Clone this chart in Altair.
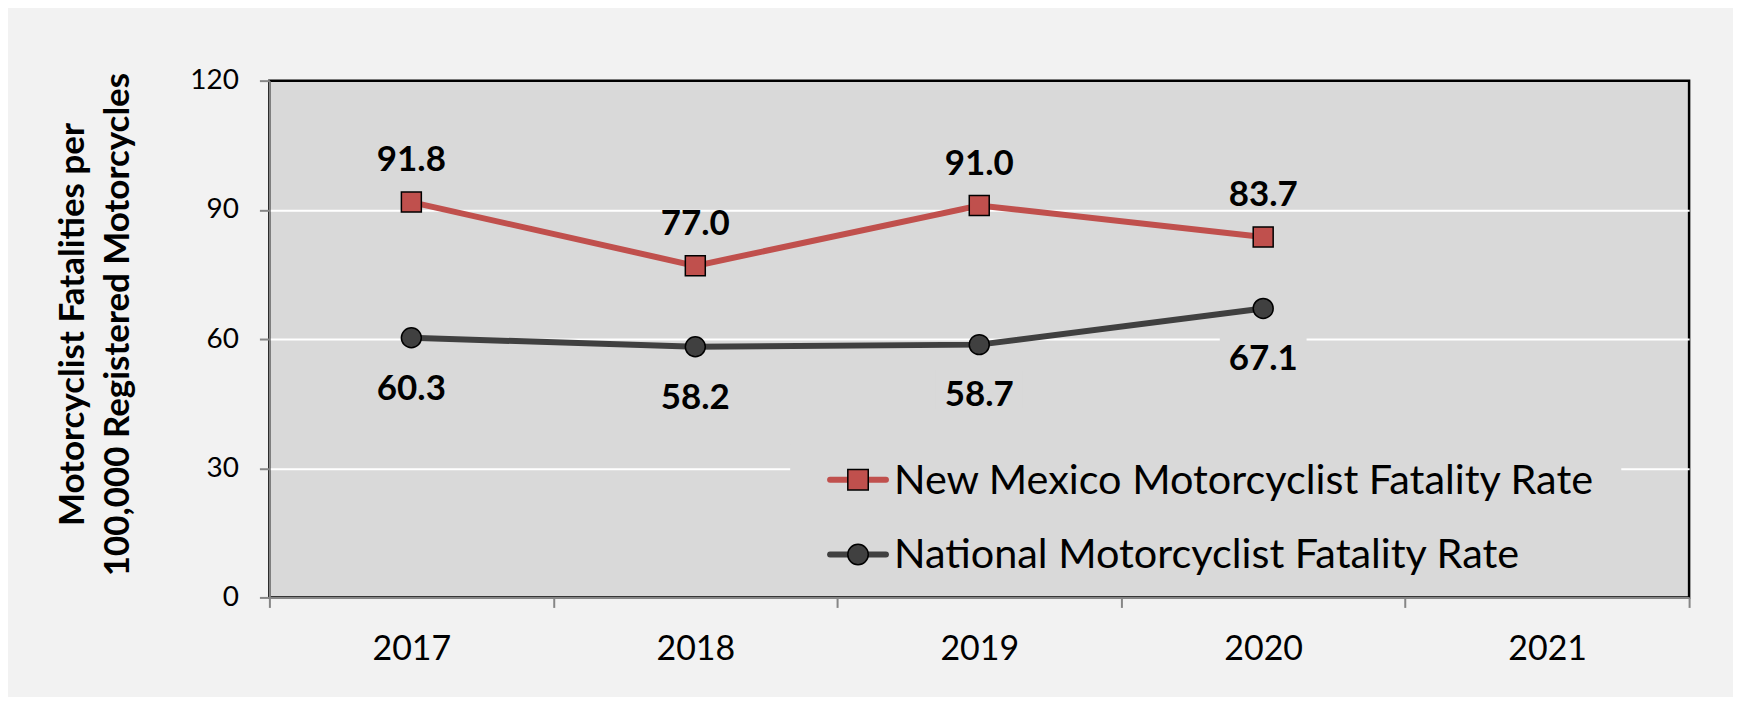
import altair as alt
import pandas as pd

# ---- data ----
years = ["2017", "2018", "2019", "2020", "2021"]
series = ["New Mexico Motorcyclist Fatality Rate", "National Motorcyclist Fatality Rate"]
nm_rate = [91.8, 77.0, 91.0, 83.7, None]
national_rate = [60.3, 58.2, 58.7, 67.1, None]
y_ticks = [0, 30, 60, 90, 120]
y_title = ["Motorcyclist Fatalities per", "100,000 Registered Motorcycles"]

rows = []
for s, vals in zip(series, [nm_rate, national_rate]):
    for yr, v in zip(years, vals):
        if v is not None:
            rows.append({"year": yr, "series": s, "rate": v})
df = pd.DataFrame(rows)
legend_df = pd.DataFrame({"series": series})

# ---- styles ----
RED = "#c0504d"
DARK = "#404040"
PLOT_BG = "#d9d9d9"
PAGE_BG = "#f2f2f2"
AXIS_GRAY = "#868686"
FONT = "Lato"
W, H = 1423, 518
colors = [RED, DARK]
shapes = ["square", "circle"]
RECT_PATH = "M-1,-0.437L1,-0.437L1,0.437L-1,0.437Z"

x_scale = alt.Scale(type="band", domain=years, paddingInner=0, paddingOuter=0)
y_scale = alt.Scale(domain=[0, 120], nice=False, zero=True)

x_axis = alt.Axis(
    title=None, labelAngle=0, labelFont=FONT, labelFontSize=34, labelColor="black",
    labelPadding=25, tickBand="extent", tickSize=10, tickColor=AXIS_GRAY, tickWidth=2,
    domainColor=AXIS_GRAY, domainWidth=2, grid=False,
)
y_axis = alt.Axis(
    values=y_ticks, title=y_title, titleFont=FONT, titleFontSize=35, titleFontWeight="bold",
    titleColor="black", titleAngle=-90, titleBaseline="alphabetic", titleAlign="center",
    titleX=-186, titleY=244, titleLineHeight=45,
    labelFont=FONT, labelFontSize=28, labelColor="black", labelPadding=21,
    tickSize=10, tickColor=AXIS_GRAY, tickWidth=2, domainColor=AXIS_GRAY, domainWidth=2,
    grid=True, gridColor="white", gridWidth=2,
    gridOpacity={"condition": {"test": "datum.value == 0 || datum.value == 120", "value": 0}, "value": 1},
)

X = alt.X("year:N", scale=x_scale, axis=x_axis)
Y = alt.Y("rate:Q", scale=y_scale, axis=y_axis)
Xp = alt.X("year:N")
Yp = alt.Y("rate:Q")

# background box behind the national labels (breaks the gridline as in the reference)
label_bg = alt.Chart(df).transform_filter(alt.datum.series == series[1]).mark_point(
    shape=RECT_PATH, filled=True, fill=PLOT_BG, opacity=1, strokeWidth=0, size=87 ** 2, yOffset=45
).encode(x=X, y=Y)

# legend box
legend_box = alt.Chart(legend_df).transform_filter(alt.datum.series == series[0]).mark_rect(
    fill=PLOT_BG
).encode(x=alt.value(522), x2=alt.value(1355), y=alt.value(365), y2=alt.value(510))

lines = alt.Chart(df).mark_line(strokeWidth=6).encode(
    x=Xp, y=Yp,
    color=alt.Color("series:N", scale=alt.Scale(domain=series, range=colors), legend=None),
)

points = alt.Chart(df).mark_point(
    filled=True, size=400, stroke="black", strokeWidth=1.5, opacity=1
).encode(
    x=Xp, y=Yp,
    fill=alt.Fill("series:N", scale=alt.Scale(domain=series, range=colors), legend=None),
    shape=alt.Shape("series:N", scale=alt.Scale(domain=series, range=shapes), legend=None),
)

nm_labels = alt.Chart(df).transform_filter(alt.datum.series == series[0]).mark_text(
    font=FONT, fontSize=35, fontWeight="bold", color="black", dy=-42, baseline="middle"
).encode(x=Xp, y=Yp, text=alt.Text("rate:Q", format=".1f"))

nat_labels = alt.Chart(df).transform_filter(alt.datum.series == series[1]).mark_text(
    font=FONT, fontSize=35, fontWeight="bold", color="black", dy=51, baseline="middle"
).encode(x=Xp, y=Yp, text=alt.Text("rate:Q", format=".1f"))

legend_layers = []
for i, s in enumerate(series):
    ry = 400 + 75 * i
    src = alt.Chart(legend_df).transform_filter(alt.datum.series == s)
    legend_layers.append(
        src.mark_rule(strokeWidth=6, color=colors[i], strokeCap="round").encode(
            x=alt.value(562), x2=alt.value(618), y=alt.value(ry)
        )
    )
    legend_layers.append(
        src.mark_point(shape=shapes[i], filled=True, fill=colors[i], stroke="black",
                       strokeWidth=1.5, size=420, opacity=1).encode(
            x=alt.value(590), y=alt.value(ry)
        )
    )
    legend_layers.append(
        src.mark_text(align="left", baseline="alphabetic", font=FONT, fontSize=41.5, color="black").encode(
            x=alt.value(626), y=alt.value(ry + 14), text="series:N"
        )
    )

chart = alt.layer(
    label_bg, legend_box, lines, points, nm_labels, nat_labels, *legend_layers
).properties(
    width=W, height=H, background=PAGE_BG,
    padding={"left": 262, "top": 72, "right": 44, "bottom": 99},
    autosize=alt.AutoSizeParams(type="none"),
).configure_view(fill=PLOT_BG, stroke="black", strokeWidth=2.5)

chart.save("out.html", embed_options={"renderer": "svg", "actions": False})
